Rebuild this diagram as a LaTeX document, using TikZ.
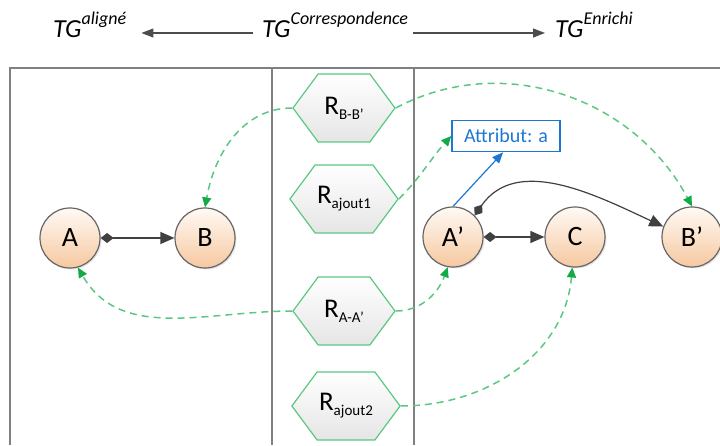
\documentclass[tikz,border=0pt]{standalone}
\usepackage{fontspec}
\setmainfont{Carlito}
\usetikzlibrary{arrows.meta,shapes.symbols,shadows}
\definecolor{relgreen}{RGB}{90,200,130}
\definecolor{tipgreen}{RGB}{20,170,70}
\definecolor{attrblue}{RGB}{30,120,210}
\definecolor{peach}{RGB}{246,200,160}
\newcommand{\relsub}[2]{#1\raisebox{-5pt}{\fontsize{15pt}{15pt}\selectfont #2}}
\newcommand{\tgsup}[1]{TG\raisebox{13pt}{\fontsize{18pt}{18pt}\selectfont #1}}
\tikzset{
  vertex/.style={
    circle,
    minimum size=60pt,
    inner sep=0pt,
    draw=black!60,
    line width=1.2pt,
    top color=orange!4,
    bottom color=peach,
    font=\fontsize{28pt}{28pt}\selectfont,
    drop shadow={opacity=0.2, shadow xshift=1.5pt, shadow yshift=-1.5pt},
  },
  relation/.style={
    signal,
    signal to=west and east,
    signal pointer angle=107,
    minimum width=102pt,
    minimum height=68pt,
    inner sep=2pt,
    draw=relgreen,
    line width=1.2pt,
    top color=white,
    bottom color=black!10,
    font=\fontsize{27pt}{27pt}\selectfont,
  },
  attrbox/.style={
    rectangle,
    minimum width=108pt,
    minimum height=31pt,
    inner sep=2pt,
    draw=attrblue,
    line width=1.5pt,
    fill=white,
    text=attrblue,
    font=\fontsize{20pt}{20pt}\selectfont,
  },
  title/.style={anchor=base west, inner sep=2pt, font=\fontsize{26pt}{26pt}\selectfont\itshape},
  frame line/.style={line width=2.5pt, draw=black!50},
  title arrow/.style={-{Triangle[length=12pt,width=9pt]}, line width=1.2pt, draw=black!70},
  link/.style={{Diamond[length=13pt,width=10pt]}-{Triangle[length=14pt,width=12pt]}, line width=1.2pt, draw=black!75},
  corr/.style={-{Triangle[length=10pt,width=9pt,color=tipgreen]}, dash pattern=on 7pt off 5pt, line width=1.5pt, draw=relgreen},
  attr link/.style={-{Triangle[length=11pt,width=9pt]}, line width=1.2pt, draw=attrblue},
}
\begin{document}
\begin{tikzpicture}[x=1pt,y=1pt]
  \useasboundingbox (0,0) rectangle (720,445);
  % frame and columns
  \draw[frame line] (10,0) -- (10,377) -- (720,377);
  \draw[frame line] (272,0) -- (272,377);
  \draw[frame line] (414,0) -- (414,377);
  % titles
  \node[title] (tgAl) at (51,407) {\tgsup{aligné}};
  \node[title] (tgCorr) at (260,407) {\tgsup{Correspondence}};
  \node[title] (tgEnr) at (553,407) {\tgsup{Enrichi}};
  \draw[title arrow,shorten <=7pt,shorten >=13pt] ([yshift=5pt]tgCorr.base west) -- ([yshift=5pt]tgAl.base east);
  \draw[title arrow,shorten <=3pt,shorten >=8pt] ([yshift=5pt]tgCorr.base east) -- ([yshift=5pt]tgEnr.base west);
  % graphs
  \node[vertex] (A) at (70,207) {A};
  \node[vertex] (B) at (205,207) {B};
  \node[vertex] (A2) at (453,208) {A’};
  \node[vertex] (C) at (575,208) {C};
  \node[vertex] (B2) at (692,208) {B’};
  \node[attrbox] (attr) at (506,309) {Attribut: a};
  % correspondence relations
  \node[relation] (rBB) at (344,337) {\relsub{R}{B-B’}};
  \node[relation] (rAj1) at (344,246) {\relsub{R}{ajout1}};
  \node[relation] (rAA) at (344,134) {\relsub{R}{A-A’}};
  \node[relation] (rAj2) at (346,39) {\relsub{R}{ajout2}};
  % edges
  \draw[link] (A) -- (B);
  \draw[link] (A2) -- (C);
  \draw[link] (A2.45) to[out=55,in=155] (B2.160);
  \draw[attr link] (A2.north) -- (attr.-100);
  % mappings
  \draw[corr] (rBB.west) to[out=180,in=80] (B.north);
  \draw[corr] (rBB.east) to[out=28,in=118] (B2.north);
  \draw[corr] (rAj1.east) to[out=45,in=228] (attr.west);
  \draw[corr] (rAA.west) to[out=180,in=-60] (A.-75);
  \draw[corr] (rAA.east) to[out=0,in=-110] (A2.-100);
  \draw[corr] (rAj2.east) to[out=0,in=-95] (C.-95);
\end{tikzpicture}
\end{document}
